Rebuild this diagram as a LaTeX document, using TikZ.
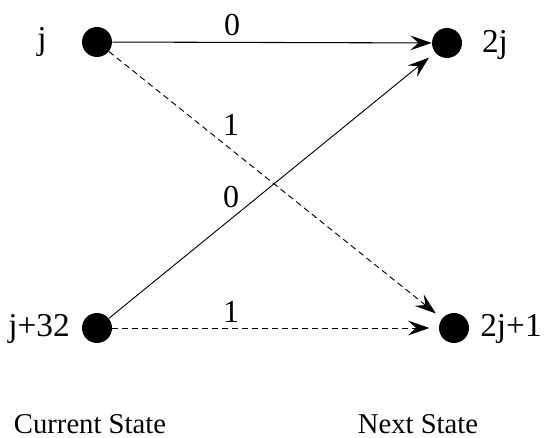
\documentclass[tikz,border=0pt]{standalone}
\usepackage{fontspec}
\setmainfont{Liberation Serif}
\usetikzlibrary{arrows.meta}
\begin{document}
\begin{tikzpicture}[x=0.75pt,y=-0.75pt,
  dot/.style={circle,fill=black,draw=none,minimum size=22.5pt,inner sep=0pt},
  lbl/.style={inner sep=0pt,font=\fontsize{25}{29}\selectfont},
  elbl/.style={inner sep=0pt,font=\fontsize{24}{28}\selectfont},
  bottomlbl/.style={inner sep=0pt,font=\fontsize{21.5}{25}\selectfont},
  conn/.style={line width=0.7pt,-{Stealth[length=16pt,width=11pt,inset=6pt]}},
  dashconn/.style={conn,dash pattern=on 4.5pt off 3pt}]
\useasboundingbox (0,0) rectangle (547,438);
\node[dot] (j) at (97,42) {};
\node[dot] (tj) at (447,43) {};
\node[dot] (j32) at (97,328) {};
\node[dot] (tj1) at (454,328) {};
\node[lbl] (lj) at (42,42) {j};
\node[lbl] (ltj) at (495,45) {2j};
\node[lbl] (lj32) at (39,329) {j+32};
\node[lbl] (ltj1) at (511,329) {2j+1};
\draw[conn,line width=0.8pt] (j) -- (tj);
\draw[dashconn,shorten >=6pt] (j) -- (tj1);
\draw[conn,shorten >=6pt] (j32) -- (tj);
\draw[dashconn,shorten >=7pt] (j32) -- (tj1);
\node[elbl] (e1) at (232,25) {0};
\node[elbl] (e2) at (231,125) {1};
\node[elbl] (e3) at (231,197) {0};
\node[elbl] (e4) at (231,312) {1};
\node[bottomlbl] (cs) at (90,424) {Current State};
\node[bottomlbl] (ns) at (418,424) {Next State};
\end{tikzpicture}
\end{document}
